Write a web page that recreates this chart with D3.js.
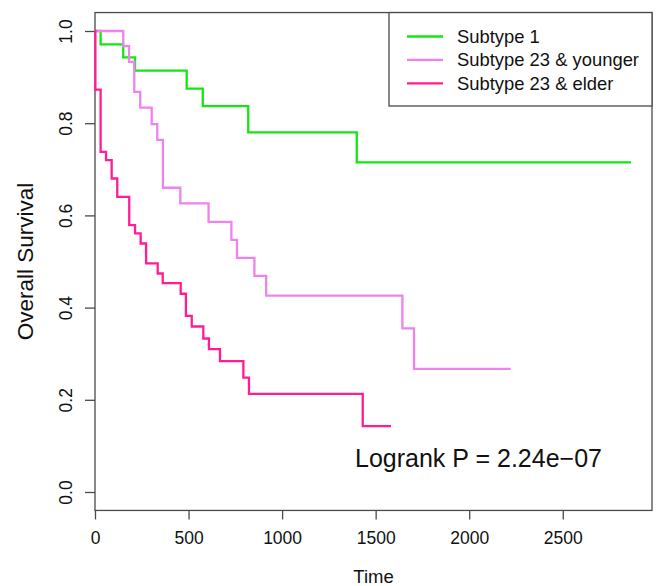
<!DOCTYPE html>
<html><head><meta charset="utf-8">
<script src="https://cdn.jsdelivr.net/npm/d3@7"></script>
<style>body{margin:0;background:#fff;}svg{display:block;font-family:"Liberation Sans",Arial,sans-serif;}</style>
</head><body>
<svg id="chart" width="656" height="586"></svg>
<script>
// ---- data ----
const seriesNames = ["Subtype 1", "Subtype 23 & younger", "Subtype 23 & elder"];
const seriesColors = ["#10e810", "#ee82ee", "#ff1d96"];
const times1 = [0, 30, 151, 214, 490, 576, 819, 1399];
const surv1  = [1, 0.971, 0.943, 0.914, 0.875, 0.837, 0.780, 0.715];
const end1 = 2865;
const times2 = [0, 151, 182, 210, 242, 303, 333, 363, 456, 607, 729, 759, 852, 915, 1643, 1705];
const surv2  = [1, 0.967, 0.933, 0.868, 0.834, 0.798, 0.764, 0.660, 0.626, 0.586, 0.547, 0.508, 0.469, 0.426, 0.355, 0.267];
const end2 = 2222;
const times3 = [0, 2, 30, 59, 89, 119, 183, 214, 244, 273, 335, 362, 458, 486, 517, 579, 609, 668, 793, 823, 1431];
const surv3  = [1, 0.873, 0.738, 0.720, 0.680, 0.640, 0.579, 0.561, 0.539, 0.496, 0.474, 0.453, 0.430, 0.382, 0.359, 0.333, 0.310, 0.284, 0.248, 0.213, 0.143];
const end3 = 1582;
const xTicks = [0, 500, 1000, 1500, 2000, 2500];
const yTicks = [0.0, 0.2, 0.4, 0.6, 0.8, 1.0];
const pLabel = "Logrank P = 2.24e\u221207";

// ---- scales ----
const svg = d3.select("#chart");
const x = d3.scaleLinear().domain([0, 2977]).range([95, 652]);
const y = d3.scaleLinear().domain([0, 1]).range([492, 31]);
const yLo = -0.04, yHi = 1.04;
const axisCol = "#4a4a4a";

// box
svg.append("rect")
  .attr("x", x(0)).attr("y", y(yHi))
  .attr("width", x(2977) - x(0)).attr("height", y(yLo) - y(yHi))
  .attr("fill", "none").attr("stroke", axisCol).attr("stroke-width", 1.3);

// x axis
const xAxis = svg.append("g").attr("transform", `translate(0,${y(yLo)})`)
  .call(d3.axisBottom(x).tickValues(xTicks).tickSize(9).tickPadding(12).tickFormat(d3.format("d")));
xAxis.select(".domain").remove();
xAxis.selectAll("line").attr("stroke", axisCol).attr("stroke-width", 1.3);
xAxis.selectAll("text").attr("font-size", 17.5).attr("fill", "#111").attr("font-family", "Liberation Sans, Arial, sans-serif");

// y axis
const yAxis = svg.append("g").attr("transform", `translate(${x(0)},0)`)
  .call(d3.axisLeft(y).tickValues(yTicks).tickSize(10).tickFormat(d3.format(".1f")));
yAxis.select(".domain").remove();
yAxis.selectAll("line").attr("stroke", axisCol).attr("stroke-width", 1.3);
yAxis.selectAll("text").remove();
yAxis.selectAll(".tick").append("text")
  .attr("transform", "translate(-23,0) rotate(-90)")
  .attr("text-anchor", "middle")
  .attr("font-size", 17.5).attr("fill", "#111")
  .attr("font-family", "Liberation Sans, Arial, sans-serif")
  .text(d => d3.format(".1f")(d));

// axis titles
svg.append("text").attr("x", (x(0) + x(2977)) / 2).attr("y", 583)
  .attr("text-anchor", "middle").attr("font-size", 18.5).attr("fill", "#111").text("Time");
svg.append("text").attr("transform", `translate(33,${(y(yLo) + y(yHi)) / 2}) rotate(-90)`)
  .attr("text-anchor", "middle").attr("font-size", 22.5).attr("fill", "#111").text("Overall Survival");

// curves
const all = [[times1, surv1, end1], [times2, surv2, end2], [times3, surv3, end3]];
const line = d3.line().x(d => x(d[0])).y(d => y(d[1])).curve(d3.curveStepAfter);
all.forEach((s, i) => {
  const pts = s[0].map((t, j) => [t, s[1][j]]);
  pts.push([s[2], s[1][s[1].length - 1]]);
  svg.append("path").datum(pts).attr("d", line)
    .attr("fill", "none").attr("stroke", seriesColors[i]).attr("stroke-width", 2.3);
});

// p-value
svg.append("text").attr("x", 355).attr("y", 467).attr("font-size", 25).attr("fill", "#111").text(pLabel);

// legend
const lg = svg.append("g");
lg.append("rect").attr("x", 389).attr("y", y(yHi)).attr("width", x(2977) - 389).attr("height", 106 - y(yHi))
  .attr("fill", "#fff").attr("stroke", axisCol).attr("stroke-width", 1.3);
seriesNames.forEach((n, i) => {
  const cy = 36.5 + i * 23.4;
  lg.append("line").attr("x1", 407).attr("x2", 443).attr("y1", cy).attr("y2", cy)
    .attr("stroke", seriesColors[i]).attr("stroke-width", 2.3);
  lg.append("text").attr("x", 457).attr("y", cy).attr("dy", "0.35em")
    .attr("font-size", 18.4).attr("fill", "#111").text(n);
});
</script>
</body></html>
